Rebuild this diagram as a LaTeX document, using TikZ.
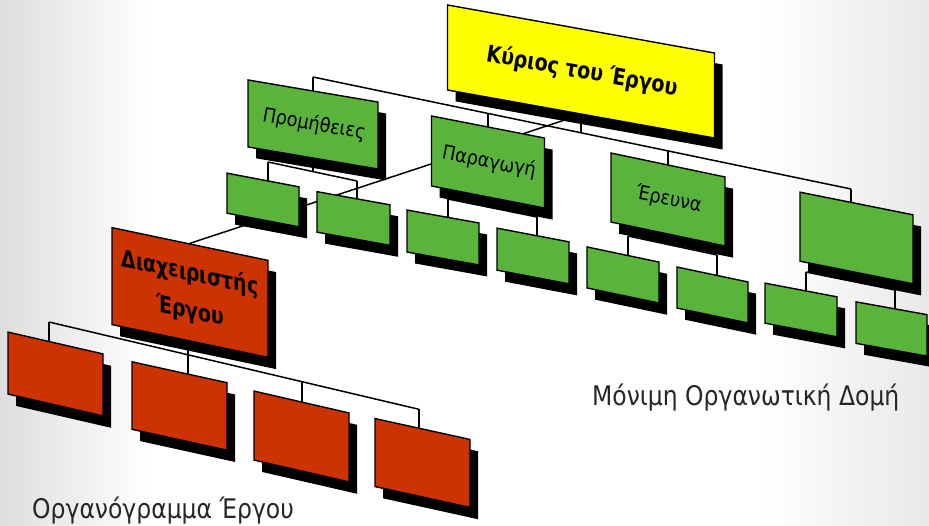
\documentclass[tikz,border=0pt]{standalone}
\usepackage{fontspec}
\setmainfont{DejaVu Sans}
\newfontfamily\lblfont{DejaVu Sans}[FakeStretch=0.87]
\newfontfamily\lblitfont{DejaVu Sans}[FakeStretch=0.87, FakeSlant=0.18]
\newfontfamily\boldlbl{DejaVu Sans Bold}[FakeStretch=0.8]
\newfontfamily\boldlblit{DejaVu Sans Bold}[FakeStretch=0.8, FakeSlant=0.15]
\usetikzlibrary{calc}
\pgfdeclarelayer{back}
\pgfdeclarelayer{bg}
\pgfsetlayers{back,bg,main}
\definecolor{boxgreen}{RGB}{90,180,60}
\definecolor{boxred}{RGB}{204,51,0}
\definecolor{boxyellow}{RGB}{255,255,0}
\pgfdeclarehorizontalshading{bgsh}{100bp}{color(0bp)=(black!13); color(25bp)=(black!13); color(33bp)=(white); color(66bp)=(white); color(75bp)=(black!9); color(100bp)=(black!9)}
\tikzset{
  orgbox/.style={draw=black, line width=1.4pt, inner sep=0pt, align=center, text=black},
  orgshadow/.style={fill=black, draw=none, inner sep=0pt},
  conn/.style={draw=black, line width=1.5pt},
  greenbox/.style={orgbox, fill=boxgreen, font=\lblitfont\fontsize{20}{24}\selectfont},
  redbox/.style={orgbox, fill=boxred, font=\boldlbl\fontsize{23.5}{38}\selectfont},
  yellowbox/.style={orgbox, fill=boxyellow, font=\boldlblit\fontsize{23.5}{28}\selectfont},
  caption/.style={inner sep=0pt, anchor=base west, text=black!85, font=\lblfont\fontsize{27}{32}\selectfont}
}
% name, cx, cy, width, height, slope, style, text
\newcommand\orgnode[8]{%
  \begin{scope}[shift={(#2,#3)}, yslant=-#6, transform shape]
    \node[orgshadow, minimum width=#4pt, minimum height=#5pt] (#1-sh) at (8,10) {};
    \node[#7, minimum width=#4pt, minimum height=#5pt] (#1) at (0,0) {#8};
  \end{scope}%
}
\begin{document}
\begin{tikzpicture}[x=1pt,y=-1pt]
\useasboundingbox (0,0) rectangle (929,525);
\begin{pgfonlayer}{back}
  \shade[shading=bgsh] (0,0) rectangle (929,525);
\end{pgfonlayer}

% boxes
\orgnode{Y}{581}{71.5}{267}{85}{0.18}{yellowbox}{Κύριος του Έργου}
\orgnode{G1}{313}{124.5}{130}{67}{0.17}{greenbox}{Προμήθειες}
\orgnode{G2}{488}{162}{113}{70}{0.195}{greenbox}{Παραγωγή}
\orgnode{G3}{668}{199.5}{114}{69}{0.21}{greenbox}{Έρευνα}
\orgnode{G4}{856.5}{238}{113}{69}{0.20}{greenbox}{}
\orgnode{Pr1}{263}{200}{72}{40}{0.19}{greenbox}{}
\orgnode{Pr2}{353.5}{218.5}{73}{40.5}{0.18}{greenbox}{}
\orgnode{P1}{443}{237.5}{72}{42}{0.18}{greenbox}{}
\orgnode{P2}{533}{256}{72}{42}{0.19}{greenbox}{}
\orgnode{E1}{623}{275}{72}{41}{0.21}{greenbox}{}
\orgnode{E2}{712.5}{295}{71}{41}{0.21}{greenbox}{}
\orgnode{R1}{801}{310}{72}{40}{0.19}{greenbox}{}
\orgnode{R2}{891.5}{329}{71}{41.5}{0.18}{greenbox}{}
\orgnode{D}{190}{292.5}{156}{97}{0.21}{redbox}{Διαχειριστής\\Έργου}
\orgnode{C1}{55.5}{374}{95}{62}{0.23}{redbox}{}
\orgnode{C2}{179.5}{406}{95}{67.5}{0.22}{redbox}{}
\orgnode{C3}{301.5}{436.5}{95}{69}{0.23}{redbox}{}
\orgnode{C4}{422.5}{463}{95}{68}{0.22}{redbox}{}

% captions
\node[caption] (cap1) at (592,405) {Μόνιμη Οργανωτική Δομή};
\node[caption] (cap2) at (32,518) {Οργανόγραμμα Έργου};

% junctions
\coordinate (jG1) at (313,77);
\coordinate (jG2) at (488,113.4);
\coordinate (jY) at (581,132.8);
\coordinate (jG3) at (668,150.9);
\coordinate (jG4) at (851,189);
\coordinate (jPr1) at (268,162);
\coordinate (jPr2) at (357,181);
\coordinate (jG1b) at (313,171.6);
\coordinate (jP1) at (448,199);
\coordinate (jP2) at (537,217);
\coordinate (jG2b) at (488,207);
\coordinate (jE1) at (628,236);
\coordinate (jE2) at (717,255);
\coordinate (jG3b) at (668,244.5);
\coordinate (jR1) at (806,272);
\coordinate (jR2) at (895,290);
\coordinate (jG4b) at (856.5,282.2);
\coordinate (jC1) at (49,322);
\coordinate (jC2) at (188,354.8);
\coordinate (jC3) at (302,381.7);
\coordinate (jC4) at (419,409.3);

\begin{pgfonlayer}{bg}
  % main structure
  \draw[conn] (jG1) -- (jG4);
  \draw[conn] (Y.center) -- (jY);
  \draw[conn] (jG1) -- (G1.center);
  \draw[conn] (jG2) -- (G2.center);
  \draw[conn] (jG3) -- (G3.center);
  \draw[conn] (jG4) -- (G4.center -| jG4);
  % Promitheies group
  \draw[conn] (jPr1) -- (jPr2);
  \draw[conn] (G1.center) -- (jG1b);
  \draw[conn] (jPr1) -- (Pr1.center -| jPr1);
  \draw[conn] (jPr2) -- (Pr2.center -| jPr2);
  % Paragogi group
  \draw[conn] (jP1) -- (jP2);
  \draw[conn] (G2.center) -- (jG2b);
  \draw[conn] (jP1) -- (P1.center -| jP1);
  \draw[conn] (jP2) -- (P2.center -| jP2);
  % Erevna group
  \draw[conn] (jE1) -- (jE2);
  \draw[conn] (G3.center) -- (jG3b);
  \draw[conn] (jE1) -- (E1.center -| jE1);
  \draw[conn] (jE2) -- (E2.center -| jE2);
  % right group
  \draw[conn] (jR1) -- (jR2);
  \draw[conn] (G4.center) -- (jG4b);
  \draw[conn] (jR1) -- (R1.center -| jR1);
  \draw[conn] (jR2) -- (R2.center -| jR2);
  % project manager link
  \draw[conn] (Y.south) -- (D.north);
  % project group
  \draw[conn] (jC1) -- (jC4);
  \draw[conn] (D.center -| jC2) -- (jC2);
  \draw[conn] (jC1) -- (C1.center -| jC1);
  \draw[conn] (jC2) -- (C2.center -| jC2);
  \draw[conn] (jC3) -- (C3.center -| jC3);
  \draw[conn] (jC4) -- (C4.center -| jC4);
\end{pgfonlayer}
\end{tikzpicture}
\end{document}
